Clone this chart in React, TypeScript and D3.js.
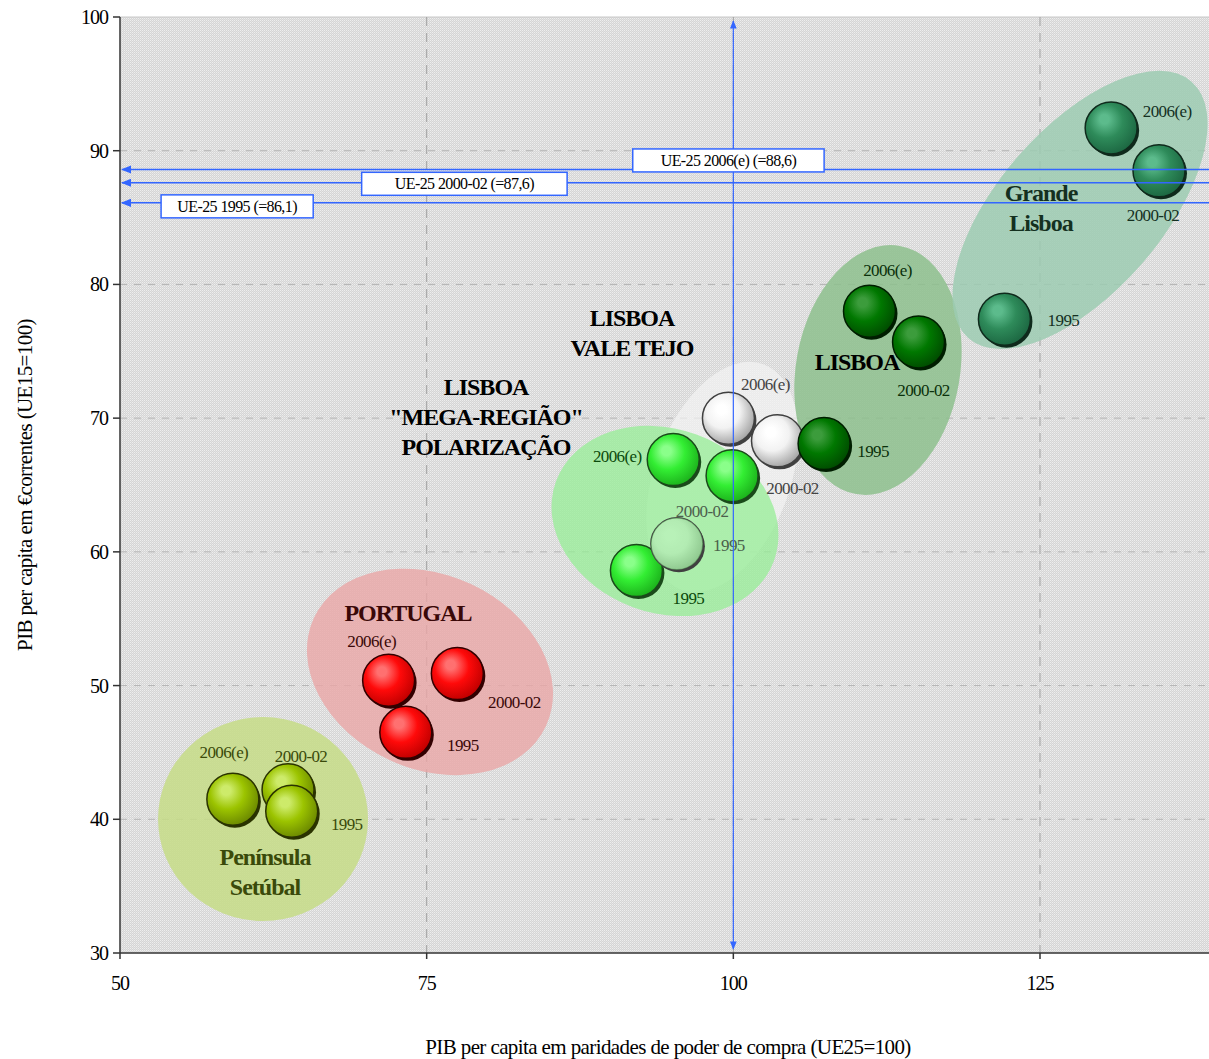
import React from "react";
import * as d3 from "d3";

// ---------- DATA ----------
const periods = ["1995", "2000-02", "2006(e)"];
const regionKeys = ["setubal", "portugal", "mega", "valeTejo", "lisboa", "grande"];
// PIB per capita em PPC (UE25=100) for [1995, 2000-02, 2006(e)]
const pppSetubal = [64.0, 63.7, 59.2];
const pppPortugal = [73.3, 77.5, 71.9];
const pppMega = [92.1, 99.9, 95.1];
const pppValeTejo = [95.4, 103.6, 99.6];
const pppLisboa = [107.4, 115.1, 111.1];
const pppGrande = [122.1, 134.7, 130.8];
// PIB per capita em € correntes (UE15=100)
const eurSetubal = [40.6, 42.2, 41.5];
const eurPortugal = [46.5, 50.9, 50.4];
const eurMega = [58.6, 65.7, 66.9];
const eurValeTejo = [60.6, 68.3, 70.0];
const eurLisboa = [68.1, 75.7, 78.0];
const eurGrande = [77.4, 88.5, 91.7];
// EU-25 reference levels
const refLabels = ["UE-25 2006(e) (=88,6)", "UE-25 2000-02 (=87,6)", "UE-25 1995 (=86,1)"];
const refValues = [88.6, 87.6, 86.1];
const xTicks = [50, 75, 100, 125];
const yTicks = [30, 40, 50, 60, 70, 80, 90, 100];
const xTitle = "PIB per capita em paridades de poder de compra (UE25=100)";
const yTitle = "PIB per capita em €correntes (UE15=100)";

const pppByRegion: Record<string, number[]> = {
  setubal: pppSetubal, portugal: pppPortugal, mega: pppMega,
  valeTejo: pppValeTejo, lisboa: pppLisboa, grande: pppGrande,
};
const eurByRegion: Record<string, number[]> = {
  setubal: eurSetubal, portugal: eurPortugal, mega: eurMega,
  valeTejo: eurValeTejo, lisboa: eurLisboa, grande: eurGrande,
};

// ---------- STYLE ----------
const W = 1209, H = 1059;
const PL = 120, PT = 17, PB = 953;
const x = d3.scaleLinear().domain([50, 140]).range([PL, PL + 90 * (920 / 75)]);
const y = d3.scaleLinear().domain([30, 100]).range([PB, PT]);
const R = 26;
const FONT = "'Liberation Serif', 'Times New Roman', serif";
const BLUE = "#3366ff";

const bubbleStyle: Record<string, any> = {
  setubal: { hi: "#cdeb6a", base: "#9cc400", dark: "#6e8c00", stroke: "#2a3300", text: "#3a4a0a" },
  portugal: { hi: "#ff7070", base: "#ff0a0a", dark: "#c40000", stroke: "#320000", text: "#3a0808" },
  mega: { hi: "#8aff8a", base: "#33ee33", dark: "#1db51d", stroke: "#1a4a1a", text: "#0b4a0b" },
  valeTejo: { hi: "#ffffff", base: "#f2f2f2", dark: "#a8a8a8", stroke: "#404040", text: "#444444" },
  lisboa: { hi: "#3c9c3c", base: "#007800", dark: "#004e00", stroke: "#001e00", text: "#0a300a" },
  grande: { hi: "#5cbb8c", base: "#2e8b5a", dark: "#1d6943", stroke: "#0f2a1c", text: "#14301f" },
};
// label offsets (px) for [1995, 2000-02, 2006(e)]
const labelOffsets: Record<string, [number, number][]> = {
  setubal: [[55, 13], [13, -34], [-9, -47]],
  portugal: [[57, 13], [57, 29], [-17, -39]],
  mega: [[52, 27], [-30, 35], [-56, -4]],
  valeTejo: [[52, 1], [15, 47], [37, -34]],
  lisboa: [[49, 8], [5, 48], [18, -41]],
  grande: [[59, 1], [-6, 44], [56, -17]],
};
const labelColorOverride: Record<string, string> = { "mega-1": "#4d5f4d", "valeTejo-0": "#4a604a" };
const drawOrder = [2, 1, 0];

const ellipses = [
  { key: "setubal", cx: 61.66, cy: 40.02, rx: 105, ry: 102, rot: 0, fill: "#c6dc86", op: 0.85 },
  { key: "portugal", cx: 75.27, cy: 51.02, rx: 128, ry: 97, rot: 25, fill: "#eaa6a6", op: 0.8 },
  { key: "valeTejo", cx: 99.1, cy: 65.6, rx: 68, ry: 120, rot: 20, fill: "#f4f4f4", op: 0.7 },
  { key: "mega", cx: 94.43, cy: 62.31, rx: 116, ry: 92, rot: 20, fill: "#96ee96", op: 0.75 },
  { key: "lisboa", cx: 111.79, cy: 73.6, rx: 82, ry: 126, rot: 10, fill: "#8dbf8d", op: 0.85 },
  { key: "grande", cx: 128.26, cy: 85.57, rx: 170, ry: 82, rot: -49, fill: "#9ccbb1", op: 0.85 },
];

const titles = [
  { lines: ["Península", "Setúbal"], x: 61.82, y: 37.18, color: "#3a4a0a" },
  { lines: ["PORTUGAL"], x: 73.48, y: 55.43, color: "#3a0808" },
  { lines: ["LISBOA", "\"MEGA-REGIÃO\"", "POLARIZAÇÃO"], x: 79.84, y: 72.33, color: "#000000" },
  { lines: ["LISBOA", "VALE TEJO"], x: 91.74, y: 77.49, color: "#000000" },
  { lines: ["LISBOA"], x: 110.08, y: 74.2, color: "#000000" },
  { lines: ["Grande", "Lisboa"], x: 125.08, y: 86.84, color: "#14301f" },
];
// reference label boxes: [left, right] in x-data units, vertical shift in px
const refBoxes = [
  { x0: 91.8, x1: 107.4, dy: -9 },
  { x0: 69.7, x1: 86.45, dy: 1 },
  { x0: 53.35, x1: 65.75, dy: 3.5 },
];

function T(props: any) {
  const { children, ...rest } = props;
  return (
    <text fontFamily={FONT} {...rest}>
      {children}
    </text>
  );
}

export default function App() {
  const plotRight = x(140);
  return (
    <div style={{ position: "absolute", left: 0, top: 0 }}>
      <svg width={W} height={H} style={{ display: "block", background: "#fff" }}>
        <defs>
          <pattern id="bgp" width="2" height="2" patternUnits="userSpaceOnUse">
            <rect width="2" height="2" fill="#d5d5d5" />
            <rect width="1" height="1" fill="#eeeeee" />
            <rect x="1" y="1" width="1" height="1" fill="#e2e2e2" />
          </pattern>
          {regionKeys.map((k) => {
            const s = bubbleStyle[k];
            return (
              <radialGradient key={k} id={`g-${k}`} cx="0.42" cy="0.4" r="0.6" fx="0.36" fy="0.32">
                <stop offset="0" stopColor={s.hi} />
                <stop offset="0.15" stopColor={s.hi} />
                <stop offset="0.55" stopColor={s.base} />
                <stop offset="1" stopColor={s.dark} />
              </radialGradient>
            );
          })}
          <clipPath id="clipVT">
            {pppValeTejo.map((v, i) => (
              <circle key={i} cx={x(v)} cy={y(eurValeTejo[i])} r={R} />
            ))}
          </clipPath>
          <marker id="arr" viewBox="0 0 10 10" refX="9" refY="5" markerWidth="7" markerHeight="7" orient="auto-start-reverse">
            <path d="M0,1 L10,5 L0,9 z" fill={BLUE} />
          </marker>
        </defs>

        {/* plot background */}
        <rect x={PL} y={PT} width={plotRight - PL} height={PB - PT} fill="url(#bgp)" />
        <line x1={PL} x2={plotRight} y1={PT} y2={PT} stroke="#c8c8c8" />

        {/* gridlines */}
        {yTicks.filter((t) => t > 30 && t < 100).map((t) => (
          <line key={`gy${t}`} x1={PL} x2={plotRight} y1={y(t)} y2={y(t)} stroke="#b4b4b4" strokeDasharray="7,7" />
        ))}
        {xTicks.filter((t) => t > 50).map((t) => (
          <line key={`gx${t}`} x1={x(t)} x2={x(t)} y1={PT} y2={PB} stroke="#a0a0a0" strokeDasharray="9,7" />
        ))}

        {/* ellipses */}
        {ellipses.map((e) => (
          <ellipse key={e.key} cx={0} cy={0} rx={e.rx} ry={e.ry} fill={e.fill} opacity={e.op}
            transform={`translate(${x(e.cx)},${y(e.cy)}) rotate(${e.rot})`} />
        ))}

        {/* bubbles */}
        {regionKeys.map((k) => {
          const s = bubbleStyle[k];
          return (
            <g key={k}>
              {drawOrder.map((i) => {
                const cx = x(pppByRegion[k][i]);
                const cy = y(eurByRegion[k][i]);
                return (
                  <g key={i}>
                    <circle cx={cx + 2} cy={cy + 2.5} r={R} fill={s.stroke} />
                    <circle cx={cx} cy={cy} r={R} fill={`url(#g-${k})`} stroke={s.stroke} strokeWidth={1.5} />
                  </g>
                );
              })}
            </g>
          );
        })}
        {/* mega-region ellipse tint over the Vale Tejo bubbles beneath it */}
        {ellipses.filter((e) => e.key === "mega").map((e) => (
          <g key="tint" clipPath="url(#clipVT)">
            <ellipse cx={0} cy={0} rx={e.rx} ry={e.ry} fill="#7ee67e" opacity={0.55}
              transform={`translate(${x(e.cx)},${y(e.cy)}) rotate(${e.rot})`} />
          </g>
        ))}

        {/* year labels */}
        {regionKeys.map((k) =>
          periods.map((p, i) => {
            const [dx, dy] = labelOffsets[k][i];
            return (
              <T key={`${k}-${i}`} x={x(pppByRegion[k][i]) + dx} y={y(eurByRegion[k][i]) + dy} dy="0.35em"
                textAnchor="middle" fontSize={17} letterSpacing={-0.6}
                fill={labelColorOverride[`${k}-${i}`] || bubbleStyle[k].text}>
                {p}
              </T>
            );
          })
        )}

        {/* region titles */}
        {titles.map((t, j) => (
          <g key={j}>
            {t.lines.map((l, i) => (
              <T key={i} x={x(t.x)} y={y(t.y) + i * 30} dy="0.35em" textAnchor="middle" fontSize={24}
                fontWeight="bold" letterSpacing={-1} fill={t.color}>
                {l}
              </T>
            ))}
          </g>
        ))}

        {/* reference lines */}
        {refValues.map((v, i) => (
          <line key={`r${i}`} x1={W + 20} x2={PL + 2} y1={y(v)} y2={y(v)} stroke={BLUE} strokeWidth={1.5} markerEnd="url(#arr)" />
        ))}
        <line x1={x(100)} x2={x(100)} y1={PB - 4} y2={PT + 4} stroke={BLUE} strokeWidth={1.2}
          markerEnd="url(#arr)" markerStart="url(#arr)" />
        {refValues.map((v, i) => {
          const b = refBoxes[i];
          const x0 = x(b.x0), x1 = x(b.x1);
          const cy = y(v) + b.dy;
          return (
            <g key={`b${i}`}>
              <rect x={x0} y={cy - 11.5} width={x1 - x0} height={23} fill="#fff" stroke={BLUE} strokeWidth={1.5} />
              <T x={(x0 + x1) / 2} y={cy} dy="0.35em" textAnchor="middle" fontSize={16} letterSpacing={-0.6} fill="#000">
                {refLabels[i]}
              </T>
            </g>
          );
        })}

        {/* axes */}
        <line x1={PL} x2={PL} y1={PT} y2={PB} stroke="#333" strokeWidth={1.5} />
        <line x1={PL} x2={plotRight} y1={PB} y2={PB} stroke="#333" strokeWidth={1.5} />
        {yTicks.map((t) => (
          <g key={`yt${t}`}>
            <line x1={PL - 7} x2={PL} y1={y(t)} y2={y(t)} stroke="#333" strokeWidth={1.5} />
            <T x={PL - 12} y={y(t)} dy="0.35em" textAnchor="end" fontSize={20} letterSpacing={-1}>{t}</T>
          </g>
        ))}
        {xTicks.map((t) => (
          <g key={`xt${t}`}>
            <line x1={x(t)} x2={x(t)} y1={PB} y2={PB + 6} stroke="#333" strokeWidth={1.5} />
            <T x={x(t)} y={983} dy="0.35em" textAnchor="middle" fontSize={20} letterSpacing={-1}>{t}</T>
          </g>
        ))}
        <T x={668} y={1047} dy="0.35em" textAnchor="middle" fontSize={21} letterSpacing={-0.6}>{xTitle}</T>
        <T transform="translate(25,485) rotate(-90)" x={0} y={0} dy="0.35em" textAnchor="middle" fontSize={21} letterSpacing={-0.6}>{yTitle}</T>
      </svg>
    </div>
  );
}
